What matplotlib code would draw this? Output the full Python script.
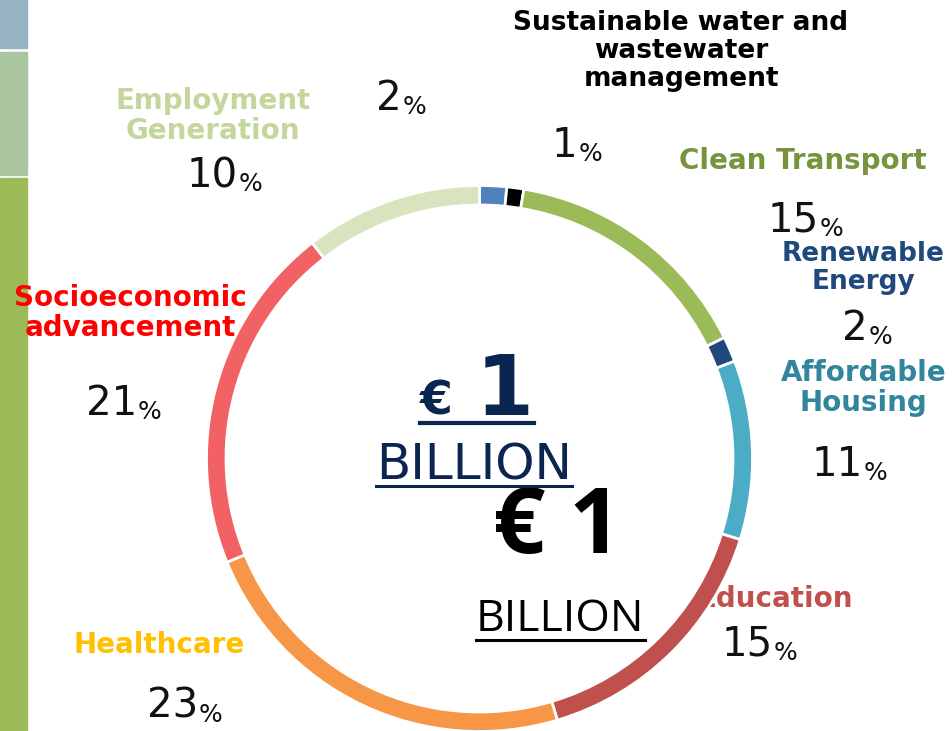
import matplotlib
matplotlib.use("Agg")
import matplotlib.pyplot as plt
from matplotlib.patches import Rectangle
from matplotlib.lines import Line2D

W, H = 952, 731

# ---------------- data ----------------
shares = [1.6, 1.0, 15.1, 1.5, 10.6, 15.6, 23.4, 20.7, 10.5]          # arc sizes
pct_labels = ["2", "1", "15", "2", "11", "15", "23", "21", "10"]      # printed percentages
ring_colors = ["#4F81BD", "#000000", "#9BBB59", "#1F497D", "#4BACC6",
               "#C0504D", "#F79646", "#F26163", "#D7E4BD"]

label_texts = ["Sustainable water and\nwastewater\nmanagement", "Clean Transport",
               "Renewable\nEnergy", "Affordable\nHousing", "Education", "Healthcare",
               "Socioeconomic\nadvancement", "Employment\nGeneration"]
label_colors = ["#000000", "#77933C", "#1F497D", "#31859C", "#C0504D", "#FFC000",
                "#FF0000", "#C3D69B"]
total_amount = "1"
unit = "BILLION"

# ---------------- figure ----------------
fig = plt.figure(figsize=(W / 100, H / 100), dpi=100)
fig.patch.set_facecolor("white")

def fx(x):
    return x / W

def fy(y):
    return 1 - y / H

# left strips
for (y0, y1, c) in [(0, 48, "#95B3C1"), (52, 175, "#A9C6A0"), (178, 731, "#9BBB59")]:
    fig.patches.append(Rectangle((0, fy(y1)), fx(27), (y1 - y0) / H,
                                 transform=fig.transFigure, color=c, zorder=0))

# donut
cx, cy, R = 479.5, 458.5, 273
ax = fig.add_axes([fx(cx - R), fy(cy + R), 2 * R / W, 2 * R / H])
wedges, _ = ax.pie(shares, colors=ring_colors, startangle=90, counterclock=False,
                   radius=1, wedgeprops=dict(width=19.5 / R, edgecolor="white", linewidth=2.0))
ax.set_xlim(-1, 1)
ax.set_ylim(-1, 1)
ax.set_aspect("equal")
ax.axis("off")
ax.patch.set_alpha(0)
ax.set_zorder(2)
for w in wedges:
    w.set_zorder(5)

# category labels: (x, y, ha, fontsize)
label_pos = [(681, 51, "center", 19), (803, 161, "center", 20), (863, 268, "center", 19),
             (781, 388, "left", 20), (775, 599, "center", 20), (159, 645, "center", 20),
             (14, 313, "left", 20), (213, 116, "center", 20)]
for t, c, (x, y, ha, fs) in zip(label_texts, label_colors, label_pos):
    z = 1 if t == "Education" else 6
    ax.text(fx(x), fy(y), t, color=c, ha=ha, va="center", transform=fig.transFigure,
            linespacing=1.1, multialignment="center", zorder=z, clip_on=False,
            family="DejaVu Sans", fontweight="bold", fontsize=fs)

# percentage labels (left x, baseline y) in ring order
pct_pos = [(376, 110), (552, 157), (768, 232), (842, 340), (812, 476),
           (722, 656), (147, 718), (86, 415), (187, 187)]
for p, (x, y) in zip(pct_labels, pct_pos):
    t = ax.text(fx(x), fy(y), p, fontsize=29, family="DejaVu Sans", color="#111111",
                ha="left", va="baseline", transform=fig.transFigure, zorder=6, clip_on=False)
    ax.annotate("%", xy=(1, 0), xycoords=t, xytext=(0.5, 0), textcoords="offset points",
                fontsize=18, family="DejaVu Sans", color="#111111", ha="left", va="bottom",
                zorder=6, annotation_clip=False)

navy = "#0B2551"
t_e = ax.text(fx(420), fy(415), "€", fontsize=34, fontweight="bold", family="DejaVu Sans",
              color=navy, ha="left", va="baseline", transform=fig.transFigure, zorder=6)
t_1 = ax.text(fx(476), fy(415), total_amount, fontsize=60, fontweight="bold",
              family="DejaVu Sans", color=navy, ha="left", va="baseline",
              transform=fig.transFigure, zorder=6)
t_b = ax.text(fx(376), fy(480), unit, fontsize=36, family="DejaVu Sans", color=navy,
              ha="left", va="baseline", transform=fig.transFigure, zorder=6)
t_e2 = ax.text(fx(493), fy(553), "€ " + total_amount, fontsize=66, fontweight="bold",
               family="Open Sans", color="black", ha="left", va="baseline",
               transform=fig.transFigure, zorder=6)
t_b2 = ax.text(fx(476), fy(631), unit, fontsize=32, family="Open Sans", color="black",
               ha="left", va="baseline", transform=fig.transFigure, zorder=6)

fig.canvas.draw()
r = fig.canvas.get_renderer()

def underline(texts, y, lw, color):
    xs = []
    for t in texts:
        bb = t.get_window_extent(r)
        xs += [bb.x0, bb.x1]
    x0, x1 = min(xs), max(xs)
    fig.lines.append(Line2D([x0 / W, x1 / W], [fy(y), fy(y)], transform=fig.transFigure,
                            color=color, linewidth=lw, zorder=6))

underline([t_e, t_1], 423, 3.0, navy)
underline([t_b], 486, 2.2, navy)
underline([t_b2], 640, 2.2, "black")

fig.savefig("out.png", dpi=100, facecolor="white")
